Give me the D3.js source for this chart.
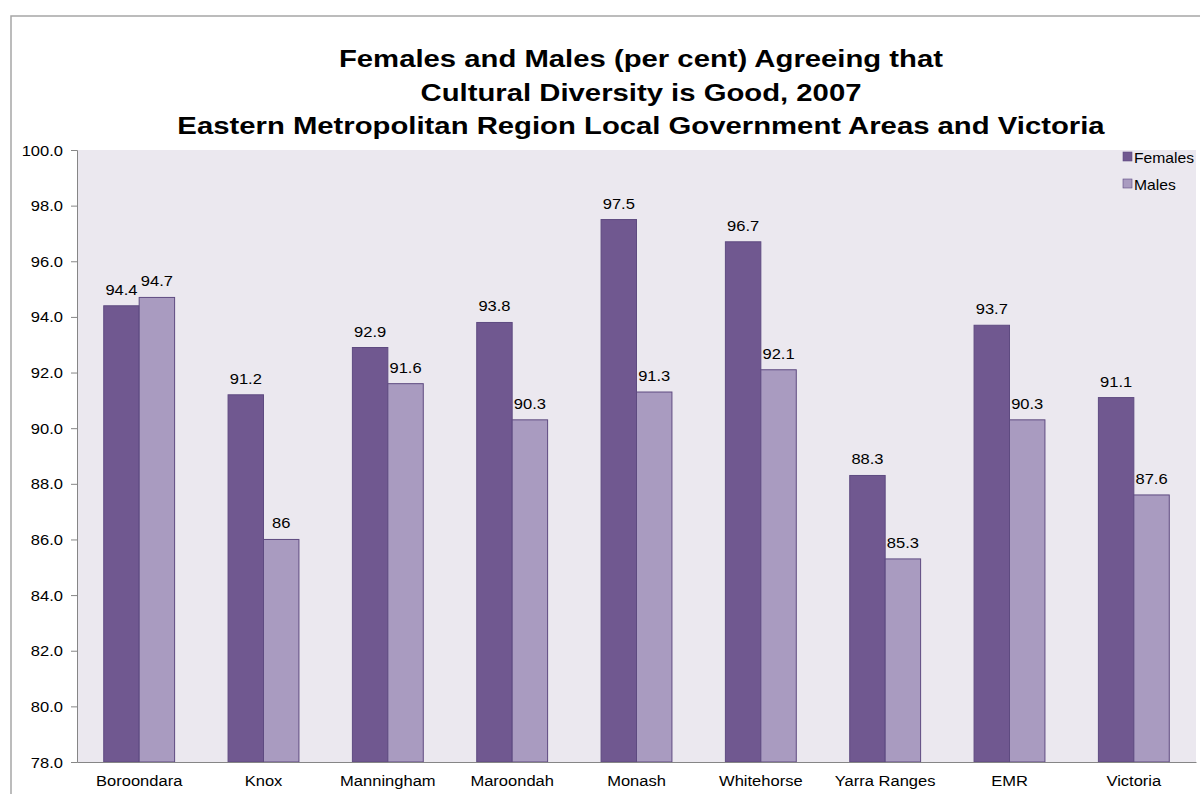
<!DOCTYPE html>
<html>
<head>
<meta charset="utf-8">
<script src="https://cdn.jsdelivr.net/npm/d3@7"></script>
<style>
  html, body { margin: 0; padding: 0; background: #ffffff; }
  svg { display: block; font-family: "Liberation Sans", Arial, sans-serif; }
</style>
</head>
<body>
<svg id="chart" width="1200" height="794"></svg>
<script>
// Survey results: share agreeing that cultural diversity is good, 2007
const categories = ["Boroondara", "Knox", "Manningham", "Maroondah", "Monash",
                    "Whitehorse", "Yarra Ranges", "EMR", "Victoria"];
const females = [94.4, 91.2, 92.9, 93.8, 97.5, 96.7, 88.3, 93.7, 91.1];
const males   = [94.7, 86, 91.6, 90.3, 91.3, 92.1, 85.3, 90.3, 87.6];
const femaleLabels = ["94.4", "91.2", "92.9", "93.8", "97.5", "96.7", "88.3", "93.7", "91.1"];
const maleLabels   = ["94.7", "86", "91.6", "90.3", "91.3", "92.1", "85.3", "90.3", "87.6"];
const seriesNames = ["Females", "Males"];
const yTicks = [78, 80, 82, 84, 86, 88, 90, 92, 94, 96, 98, 100];
const titleLines = ["Females and Males (per cent) Agreeing that",
                    "Cultural Diversity is Good, 2007",
                    "Eastern Metropolitan Region Local Government Areas and Victoria"];

const colors = { Females: "#705890", Males: "#a99bc0" };
const strokeColor = "#5e4a80";
const FONT = "Liberation Sans, Arial, sans-serif";
const SX = 1.14;       // horizontal stretch of the chart's lettering
const TITLE_SX = 1.22;

const svg = d3.select("#chart");

// outer chart frame
svg.append("rect")
  .attr("x", 11).attr("y", 16)
  .attr("width", 1200).attr("height", 800)
  .attr("fill", "#ffffff")
  .attr("stroke", "#a6a6a6").attr("stroke-width", 1.5);

const plot = { left: 77, right: 1196, top: 150, bottom: 762 };

const x = d3.scaleBand()
  .domain(categories)
  .range([plot.left, plot.right])
  .paddingInner(0).paddingOuter(0);

const groupInner = 0.57; // fraction of band occupied by the bar pair
const xs = d3.scaleBand()
  .domain(seriesNames)
  .range([0, x.bandwidth() * groupInner]);
const groupOffset = x.bandwidth() * (1 - groupInner) / 2;

const y = d3.scaleLinear().domain([78, 100]).range([plot.bottom, plot.top]);

// plot background
svg.append("rect")
  .attr("x", plot.left).attr("y", plot.top)
  .attr("width", plot.right - plot.left).attr("height", plot.bottom - plot.top)
  .attr("fill", "#ebe8ef");

// title
titleLines.forEach((t, i) => {
  svg.append("text")
    .attr("transform", `translate(641,${67 + i * 33.5}) scale(${TITLE_SX},1)`)
    .attr("text-anchor", "middle")
    .attr("font-weight", "bold")
    .attr("font-size", 24)
    .attr("fill", "#000")
    .text(t);
});

// bars
const data = categories.map((c, i) => ({
  cat: c,
  vals: [
    { s: "Females", v: females[i], label: femaleLabels[i] },
    { s: "Males", v: males[i], label: maleLabels[i] }
  ]
}));

const groups = svg.append("g").selectAll("g")
  .data(data).join("g")
  .attr("transform", d => `translate(${x(d.cat) + groupOffset},0)`);

groups.selectAll("rect")
  .data(d => d.vals).join("rect")
  .attr("x", d => xs(d.s))
  .attr("y", d => y(d.v))
  .attr("width", xs.bandwidth())
  .attr("height", d => y(78) - y(d.v))
  .attr("fill", d => colors[d.s])
  .attr("stroke", strokeColor)
  .attr("stroke-width", 1);

groups.selectAll("text")
  .data(d => d.vals).join("text")
  .attr("transform", d => `translate(${xs(d.s) + xs.bandwidth() / 2},${y(d.v) - 11}) scale(${SX},1)`)
  .attr("text-anchor", "middle")
  .attr("font-size", 14.5)
  .attr("fill", "#000")
  .text(d => d.label);

// y axis
const yAxis = d3.axisLeft(y)
  .tickValues(yTicks)
  .tickFormat(d3.format(".1f"))
  .tickSize(6)
  .tickPadding(8);
const gy = svg.append("g").attr("transform", `translate(${plot.left},0)`).call(yAxis);
gy.select(".domain").attr("stroke", "#868686");
gy.selectAll(".tick line").attr("stroke", "#868686");
gy.selectAll(".tick text")
  .attr("x", null).attr("dy", "0.35em")
  .attr("transform", `translate(-14,0) scale(${SX},1)`)
  .attr("font-size", 14.5).attr("fill", "#000").attr("font-family", FONT);

// x axis
const xAxis = d3.axisBottom(x).tickSize(0).tickPadding(14);
const gx = svg.append("g").attr("transform", `translate(0,${plot.bottom})`).call(xAxis);
gx.select(".domain").attr("stroke", "#868686");
gx.selectAll(".tick text")
  .attr("transform", `scale(${SX},1)`)
  .attr("font-size", 14.5).attr("fill", "#000").attr("font-family", FONT);

// legend
const legend = svg.append("g").attr("transform", "translate(1123,150)");
seriesNames.forEach((s, i) => {
  const g = legend.append("g").attr("transform", `translate(0,${i * 27})`);
  g.append("rect").attr("x", 0).attr("y", 2).attr("width", 9).attr("height", 9)
    .attr("fill", colors[s]).attr("stroke", strokeColor).attr("stroke-width", 0.6);
  g.append("text").attr("transform", `translate(11,12.5) scale(1.08,1)`)
    .attr("font-size", 14.5).attr("fill", "#000").text(s);
});
</script>
</body>
</html>
